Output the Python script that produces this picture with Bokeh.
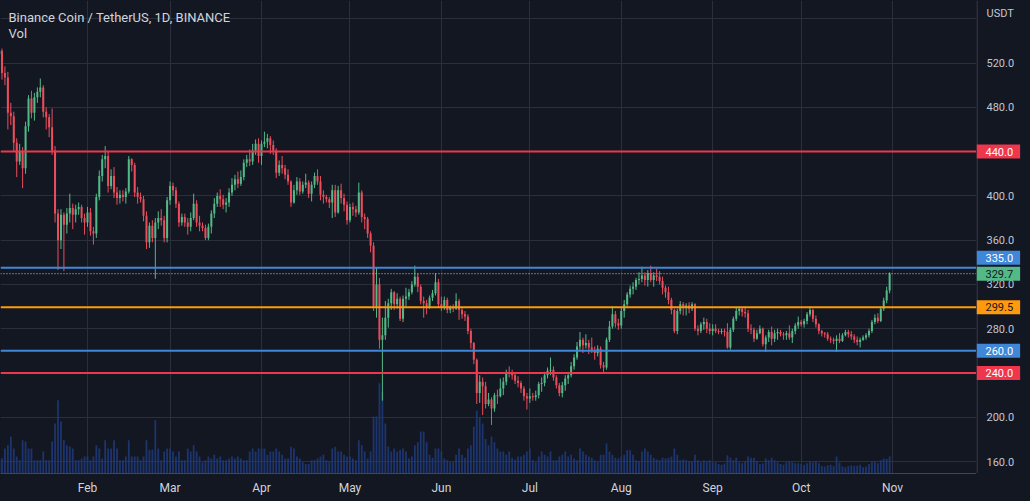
import datetime as dt
import pandas as pd
from bokeh.plotting import figure
from bokeh.layouts import row
from bokeh.models import (ColumnDataSource, Range1d, FixedTicker, DatetimeTickFormatter,
                          Span, Label, GlobalInlineStyleSheet)
from bokeh.core.properties import value
from bokeh.embed import file_html
from bokeh.resources import INLINE

# ---------------- data (BNB/USDT daily, 2 Jan 2022 .. 31 Oct 2022) ----------------
start_date = "2022-01-02"
first_open = 528.0

jan_close = [531, 511, 507, 475, 472, 448, 431, 440, 425, 463, 488, 475, 489, 494, 498, 476, 471, 462, 441, 384,
             360, 383, 374, 384, 389, 383, 388, 390, 380, 376]
jan_high = [535, 533, 517, 512, 484, 476, 452, 447, 444, 467, 491, 495, 493, 498, 506, 500, 480, 474, 479, 445,
            388, 388, 385, 389, 402, 393, 392, 394, 392, 384]
jan_low = [524, 505, 500, 460, 464, 440, 417, 428, 407, 420, 458, 470, 468, 484, 489, 471, 460, 453, 437, 376,
           333, 352, 332, 366, 376, 370, 376, 383, 376, 365]
jan_vol = [450, 480, 800, 900, 1180, 800, 540, 420, 1060, 1020, 800, 800, 420, 420, 420, 700, 420, 420, 1020, 1600,
           2340, 1660, 1060, 900, 860, 800, 420, 420, 480, 540]

feb_close = [385, 368, 366, 399, 418, 433, 436, 409, 418, 403, 398, 401, 399, 404, 433, 428, 403, 399, 397, 382,
             358, 373, 362, 376, 380, 378, 362, 396]
feb_high = [390, 389, 372, 402, 423, 437, 445, 440, 424, 426, 408, 405, 405, 407, 436, 434, 430, 408, 403, 400,
            386, 376, 378, 380, 386, 388, 382, 399]
feb_low = [372, 364, 356, 362, 396, 413, 425, 403, 406, 398, 392, 393, 395, 393, 402, 422, 399, 393, 394, 377,
           352, 353, 358, 325, 370, 373, 358, 358]
feb_vol = [540, 420, 540, 900, 800, 480, 1060, 800, 800, 1060, 800, 420, 420, 540, 1060, 540, 540, 540, 420, 540,
           1060, 760, 760, 1700, 800, 420, 700, 800]

mar_close = [409, 405, 393, 376, 381, 376, 372, 380, 393, 376, 373, 371, 362, 372, 384, 393, 400, 397, 392, 394,
             403, 410, 415, 411, 417, 430, 433, 431, 441, 447, 436]
mar_high = [413, 412, 408, 395, 384, 384, 380, 385, 402, 396, 382, 376, 374, 375, 387, 398, 403, 406, 401, 398,
            407, 416, 419, 422, 423, 433, 437, 442, 447, 451, 452]
mar_low = [392, 400, 389, 372, 373, 372, 365, 368, 378, 372, 368, 368, 360, 360, 366, 380, 390, 390, 388, 385,
           390, 400, 405, 407, 409, 414, 426, 427, 428, 437, 430]
mar_vol = [800, 700, 540, 700, 420, 420, 800, 700, 900, 700, 540, 360, 420, 540, 480, 600, 480, 540, 420, 420,
           480, 540, 480, 540, 480, 420, 420, 700, 800, 700, 800]

apr_close = [447, 449, 452, 446, 441, 421, 428, 425, 419, 413, 394, 405, 413, 404, 410, 412, 402, 410, 418, 413,
             401, 399, 397, 394, 405, 385, 405, 398, 392, 378]
apr_high = [450, 458, 456, 454, 450, 443, 432, 436, 428, 424, 414, 410, 417, 416, 413, 420, 414, 413, 421, 424,
            418, 405, 401, 399, 410, 410, 409, 411, 402, 395]
apr_low = [428, 444, 443, 438, 437, 416, 418, 420, 415, 410, 390, 393, 401, 401, 402, 407, 398, 395, 407, 410,
           396, 393, 394, 389, 380, 381, 384, 393, 386, 374]
apr_vol = [800, 800, 600, 700, 700, 800, 700, 600, 480, 480, 850, 800, 540, 480, 360, 300, 300, 420, 420, 480,
           540, 600, 420, 400, 800, 850, 700, 700, 600, 540]

may_close = [390, 388, 385, 403, 381, 379, 366, 355, 300, 320, 270, 274, 290, 303, 313, 302, 307, 289, 307, 309,
             313, 320, 327, 318, 305, 303, 300, 308, 312, 322, 302]
may_high = [393, 394, 391, 412, 405, 384, 381, 368, 358, 335, 326, 290, 305, 307, 316, 314, 312, 309, 310, 317,
            316, 323, 337, 330, 320, 309, 306, 310, 315, 330, 325]
may_low = [376, 382, 381, 383, 376, 370, 362, 349, 296, 290, 262, 215, 270, 281, 297, 297, 298, 287, 286, 300,
           306, 311, 318, 313, 302, 290, 293, 298, 305, 310, 299]
may_vol = [540, 480, 420, 1060, 900, 700, 480, 700, 1820, 1820, 2880, 2600, 1600, 860, 700, 800, 700, 760, 800, 700,
           480, 540, 900, 1000, 1340, 1340, 1000, 600, 500, 800, 800]

jun_close = [299, 306, 297, 299, 298, 305, 297, 293, 291, 278, 267, 252, 222, 232, 228, 212, 216, 208, 220, 219,
             226, 232, 241, 240, 238, 233, 231, 226, 219, 217]
jun_high = [309, 309, 308, 301, 302, 312, 307, 299, 296, 293, 280, 268, 253, 238, 236, 232, 222, 218, 222, 225,
            235, 236, 243, 246, 243, 240, 237, 233, 228, 222]
jun_low = [296, 297, 294, 294, 295, 297, 288, 289, 287, 275, 262, 248, 212, 213, 202, 208, 210, 193, 205, 212,
           218, 220, 229, 236, 234, 230, 227, 222, 215, 207]
jun_vol = [700, 480, 420, 360, 360, 600, 800, 600, 500, 800, 900, 1500, 2000, 1800, 1600, 1100, 900, 1180, 1000, 800,
           700, 700, 600, 700, 500, 450, 540, 540, 600, 700]

jul_close = [219, 218, 220, 230, 231, 238, 242, 243, 236, 229, 222, 229, 235, 238, 246, 254, 264, 270, 265, 267,
             263, 261, 258, 262, 247, 245, 270, 282, 293, 285, 283]
jul_high = [226, 222, 224, 232, 236, 241, 245, 254, 246, 238, 231, 232, 238, 241, 250, 257, 268, 277, 272, 275,
            270, 272, 264, 265, 264, 250, 272, 287, 300, 296, 289]
jul_low = [213, 215, 215, 217, 223, 228, 235, 238, 233, 226, 219, 218, 224, 230, 236, 243, 252, 261, 258, 262,
           257, 258, 252, 255, 244, 241, 243, 268, 280, 281, 279]
jul_vol = [800, 420, 360, 540, 700, 600, 540, 700, 420, 420, 540, 600, 700, 540, 600, 480, 420, 800, 700, 600,
           540, 500, 420, 380, 600, 600, 960, 700, 600, 500, 480]

aug_close = [296, 302, 311, 316, 318, 324, 325, 328, 324, 330, 324, 328, 327, 323, 317, 313, 306, 297, 278, 296,
             302, 299, 301, 298, 302, 280, 278, 284, 286, 280, 278]
aug_high = [299, 306, 313, 319, 322, 326, 331, 336, 331, 333, 337, 331, 334, 332, 327, 319, 318, 308, 298, 298,
            305, 304, 303, 304, 304, 303, 283, 286, 290, 289, 285]
aug_low = [280, 290, 300, 308, 311, 315, 320, 322, 319, 318, 322, 318, 323, 320, 311, 308, 302, 293, 276, 275,
           293, 292, 292, 294, 296, 278, 274, 276, 279, 276, 275]
aug_vol = [540, 600, 740, 740, 600, 420, 400, 700, 800, 700, 600, 500, 450, 420, 500, 480, 500, 540, 800, 600,
           420, 450, 420, 400, 380, 600, 420, 360, 420, 400, 420]

sep_close = [280, 278, 277, 278, 277, 263, 279, 289, 296, 298, 295, 294, 280, 279, 271, 276, 280, 266, 272, 277,
             271, 276, 277, 275, 274, 276, 272, 278, 283, 286]
sep_high = [284, 284, 280, 280, 280, 285, 281, 291, 299, 300, 299, 300, 297, 284, 281, 279, 283, 281, 274, 279,
            282, 279, 280, 279, 277, 278, 283, 280, 285, 291]
sep_low = [274, 276, 275, 275, 273, 262, 261, 277, 287, 292, 291, 290, 277, 275, 268, 270, 275, 264, 259, 268,
           265, 268, 270, 273, 270, 270, 270, 267, 275, 280]
sep_vol = [360, 360, 300, 280, 320, 580, 500, 420, 500, 360, 330, 400, 540, 500, 500, 400, 300, 320, 480, 420,
           500, 420, 360, 300, 280, 360, 380, 360, 330, 330]

oct_close = [284, 287, 293, 297, 289, 284, 278, 276, 275, 271, 270, 269, 271, 269, 274, 277, 275, 273, 270, 268,
             270, 272, 274, 278, 286, 290, 287, 298, 305.5, 314.5, 329.7]
oct_high = [288, 289, 295, 300, 298, 292, 285, 279, 277, 277, 273, 272, 274, 276, 276, 279, 279, 278, 275, 273,
            272, 274, 276, 280, 288, 293, 294, 300, 308, 318, 331]
oct_low = [282, 281, 284, 291, 286, 281, 275, 273, 272, 269, 267, 266, 259, 267, 268, 273, 272, 270, 267, 265,
           263, 269, 270, 272, 276, 284, 285, 286, 296, 303, 312]
oct_vol = [300, 280, 330, 380, 350, 400, 330, 240, 220, 260, 280, 240, 540, 350, 220, 200, 240, 260, 240, 250,
           280, 200, 220, 300, 380, 400, 330, 420, 480, 460, 540]

month_ticks = ["2022-02-01", "2022-03-01", "2022-04-01", "2022-05-01", "2022-06-01",
               "2022-07-01", "2022-08-01", "2022-09-01", "2022-10-01", "2022-11-01"]
price_ticks = [160, 200, 240, 280, 320, 360, 400, 440, 480, 520]
grid_prices = [160, 200, 240, 280, 320, 360, 400, 440, 480, 520, 560]
currency = "USDT"

level_prices = [440.0, 335.0, 299.5, 260.0, 240.0]
level_kinds = ["red", "blue", "orange", "blue", "red"]

# ---------------- style ----------------
BG = "#131722"
GRID = "#2b2f3b"
TXT = "#d1d4dc"
AXTXT = "#c3c6ce"
AXLINE = "#434651"
UP = "#53b987"
DOWN = "#eb4d5c"
VOLC = "#1f3878"
KIND_COL = {"red": "#f0364d", "blue": "#3f87d8", "orange": "#ff9a0e"}
KIND_TXT = {"red": "#ffffff", "blue": "#ffffff", "orange": "#131722"}
FONT = "Roboto"

closes = (jan_close + feb_close + mar_close + apr_close + may_close + jun_close +
          jul_close + aug_close + sep_close + oct_close)
highs = (jan_high + feb_high + mar_high + apr_high + may_high + jun_high +
         jul_high + aug_high + sep_high + oct_high)
lows = (jan_low + feb_low + mar_low + apr_low + may_low + jun_low +
        jul_low + aug_low + sep_low + oct_low)
vols = (jan_vol + feb_vol + mar_vol + apr_vol + may_vol + jun_vol +
        jul_vol + aug_vol + sep_vol + oct_vol)
opens = [first_open] + closes[:-1]
dates = pd.date_range(start_date, periods=len(closes), freq="D")

colors = [UP if c >= o else DOWN for o, c in zip(opens, closes)]
src = ColumnDataSource(dict(
    date=dates, open=opens, close=closes, high=highs, low=lows, vol=vols,
    top=[max(o, c) for o, c in zip(opens, closes)],
    bottom=[min(o, c) for o, c in zip(opens, closes)],
    color=colors))

DAY = 86400000
month_ms = [pd.Timestamp(m).value // 10**6 for m in month_ticks]
price_range = Range1d(149.2, 576.5)

# ---------------- main chart ----------------
p = figure(width=976, height=501, x_axis_type="datetime", y_axis_location=None,
           x_range=Range1d(dt.datetime(2022, 1, 2, 12), dt.datetime(2022, 11, 29, 11)),
           y_range=price_range,
           output_backend="svg", toolbar_location=None, title=None,
           min_border_left=0, min_border_top=0, min_border_right=0, min_border_bottom=28,
           background_fill_color=BG, border_fill_color=BG, outline_line_color=None)
p.stylesheets = [GlobalInlineStyleSheet(css="html, body {margin:0 !important; padding:0; background:#131722;}")]

p.extra_y_ranges = {"vol": Range1d(0, 15100)}

p.xgrid.ticker = FixedTicker(ticks=month_ms)
p.ygrid.ticker = FixedTicker(ticks=grid_prices)
p.xgrid.grid_line_color = GRID
p.ygrid.grid_line_color = GRID

p.xaxis.ticker = FixedTicker(ticks=month_ms)
p.xaxis.formatter = DatetimeTickFormatter(days="%b", months="%b", years="%b")
p.xaxis.major_tick_line_color = None
p.xaxis.minor_tick_line_color = None
p.xaxis.axis_line_color = AXLINE
p.xaxis.major_label_text_color = TXT
p.xaxis.major_label_text_font = FONT
p.xaxis.major_label_text_font_size = "12px"
p.xaxis.major_label_standoff = 1

# volume
p.vbar(x="date", top="vol", bottom=0, width=0.6 * DAY, source=src, y_range_name="vol",
       fill_color=VOLC, line_color=None, fill_alpha=0.9)

# level lines
for lv, kind in zip(level_prices, level_kinds):
    p.add_layout(Span(location=lv, dimension="width", line_color=KIND_COL[kind], line_width=2))
last_price = closes[-1]
p.add_layout(Span(location=last_price, dimension="width", line_color="#c9ccd3",
                  line_width=1, line_dash="1 2"))

# candles
p.segment(x0="date", y0="low", x1="date", y1="high", source=src, line_color="color", line_width=1)
p.vbar(x="date", top="top", bottom="bottom", width=0.68 * DAY, source=src,
       fill_color="color", line_color=None)

p.add_layout(Label(x=8, y=456, x_units="screen", y_units="screen", text="Binance Coin / TetherUS, 1D, BINANCE",
                   text_color=TXT, text_font=FONT, text_font_size="13px", text_baseline="middle"))
p.add_layout(Label(x=8, y=440, x_units="screen", y_units="screen", text="Vol",
                   text_color=TXT, text_font=FONT, text_font_size="13px", text_baseline="middle"))

# ---------------- price scale (right strip, shares the price range) ----------------
s = figure(width=54, height=501, x_range=Range1d(0, 54), y_range=price_range,
           x_axis_location=None, y_axis_location=None, output_backend="svg",
           toolbar_location=None, title=None,
           min_border_left=0, min_border_top=0, min_border_right=0, min_border_bottom=28,
           background_fill_color=BG, border_fill_color=BG, outline_line_color=None)
s.grid.visible = False
s.add_layout(Span(location=0.5, dimension="height", line_color=AXLINE, line_width=1))

tick_src = ColumnDataSource(dict(y=price_ticks, text=[f"{t:.1f}" for t in price_ticks]))
s.text(x=10, y="y", text="text", source=tick_src, text_color=AXTXT, text_font=value(FONT),
       text_font_size="11px", text_baseline="middle", text_align="left")
s.add_layout(Label(x=10, y=460, x_units="screen", y_units="screen", text=currency,
                   text_color=AXTXT, text_font=FONT, text_font_size="11px", text_baseline="middle"))

pad = dict(left=9, right=7, top=3, bottom=3)
for lv, kind in zip(level_prices, level_kinds):
    off = 10 if lv == 335.0 else 0
    s.add_layout(Label(x=0, y=lv, x_units="screen", y_units="data", y_offset=off,
                       text=f"{lv:.1f}", text_color=KIND_TXT[kind], text_font=FONT,
                       text_font_size="11px", text_baseline="middle",
                       background_fill_color=KIND_COL[kind], padding=pad))
s.add_layout(Label(x=0, y=last_price, x_units="screen", y_units="data",
                   text=f"{last_price:.1f}", text_color="#131722", text_font=FONT,
                   text_font_size="11px", text_baseline="middle",
                   background_fill_color=UP, padding=pad))

layout = row(p, s, spacing=0)
open("out.html", "w").write(file_html(layout, INLINE))
